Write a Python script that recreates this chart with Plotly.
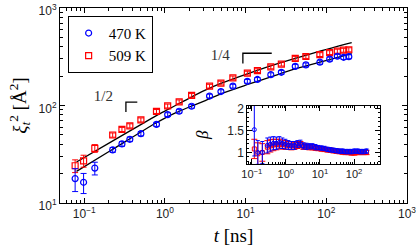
import plotly.graph_objects as go
import math

# ---- main data ----
t_main = [0.077, 0.098, 0.135, 0.225, 0.293, 0.367, 0.503, 0.785, 1.08, 1.50, 2.14,
          3.57, 4.94, 6.95, 10.5, 14.0, 20.5, 27.7, 41.2, 55.8, 83.2, 110, 137, 164, 190]
xi_470 = [17.8, 16.3, 22.8, 35.1, 40.4, 45.0, 51.4, 64.1, 80.7, 87.3, 98.2,
          125, 139, 158, 177, 185, 207, 219, 252, 261, 278, 299, 320, 312, 317]
err_470 = [4.7, 3.8, 3.4, 2.0, 2.2, 2.4, 2.6, 3.0, 3.6, 4.0, 4.4,
           5.5, 6.0, 7.0, 8.0, 8.5, 9.5, 10, 12, 12, 13, 14, 15, 15, 15]
xi_509 = [24.1, 27.1, 36.4, 49.8, 56.8, 61.9, 71.2, 86.9, 98.9, 109, 127,
          158, 170, 192, 215, 228, 249, 266, 305, 318, 333, 349, 361, 369, 373]
err_509 = [3.6, 3.8, 3.3, 2.5, 2.8, 3.0, 3.4, 4.0, 4.5, 5.0, 5.5,
           7.0, 7.5, 8.5, 9.5, 10, 11, 12, 14, 14, 15, 16, 17, 17, 18]

# ---- fit curves ----
t_fit_470 = [0.0801, 0.2124, 0.7632, 1.0143, 1.348, 2.065, 3.162, 4.844, 11.36, 26.67, 40.85, 62.57, 206.4]
fit_470 = [21.1, 34.5, 65.7, 74.7, 83.9, 97.7, 112.4, 130.9, 167.3, 211.3, 237.5, 260.8, 341.2]
t_fit_509 = [0.0801, 0.2124, 0.5744, 0.880, 1.348, 2.065, 3.162, 4.844, 11.36, 26.67, 62.57, 206.4]
fit_509 = [26.3, 42.1, 68.0, 83.0, 100, 120.6, 143.7, 167.3, 216.3, 273.3, 337.3, 441.3]

# ---- slope guides ----
g12_t = [0.454, 0.328, 0.328]
g12_y = [108.5, 108.5, 85.9]
g14_t = [21.06, 9.24, 9.24]
g14_y = [343.6, 343.6, 269.8]
lab_t = [0.1726, 4.84]
lab_y = [121.9, 323]
lab_txt = ["1/2", "1/4"]

# ---- inset data ----
t_in = [0.1185, 0.150, 0.2036, 0.2856, 0.350, 0.429, 0.526, 0.644, 0.789, 0.967, 1.18, 1.45,
        1.78, 2.18, 2.67, 3.27, 4.01, 4.91, 6.02, 7.37, 9.03, 11.1, 13.6, 16.6, 20.4, 24.9,
        30.6, 37.5, 45.9, 56.2, 68.9, 84.4, 103, 127, 155, 190, 233]
beta_470 = [1.52, 1.0, 1.0, 1.16, 1.19, 1.21, 1.21, 1.23, 1.21, 1.19, 1.17, 1.16, 1.16, 1.19,
            1.20, 1.15, 1.14, 1.14, 1.14, 1.12, 1.11, 1.10, 1.09, 1.07, 1.06, 1.05, 1.04,
            1.03, 1.03, 1.02, 1.02, 1.02, 1.03, 1.03, 1.02, 1.02, 1.03]
berr_470 = [0.6, 0.27, 0.25, 0.17, 0.16, 0.15, 0.14, 0.13, 0.12, 0.11, 0.10, 0.09, 0.09, 0.08,
            0.08, 0.07, 0.07, 0.06, 0.06, 0.06, 0.05, 0.05, 0.05, 0.05, 0.05, 0.05, 0.05,
            0.05, 0.05, 0.05, 0.05, 0.05, 0.05, 0.05, 0.05, 0.05, 0.05]
beta_509 = [1.08, 0.97, 1.0, 1.12, 1.15, 1.17, 1.18, 1.19, 1.18, 1.17, 1.16, 1.15, 1.15, 1.17,
            1.18, 1.14, 1.13, 1.12, 1.12, 1.10, 1.09, 1.08, 1.07, 1.06, 1.05, 1.04, 1.03,
            1.02, 1.01, 1.0, 1.0, 0.99, 0.99, 1.0, 1.0, 1.0, 1.0]
berr_509 = [0.22, 0.25, 0.2, 0.15, 0.14, 0.13, 0.12, 0.11, 0.10, 0.10, 0.09, 0.09, 0.08, 0.08,
            0.07, 0.07, 0.06, 0.06, 0.06, 0.05, 0.05, 0.05, 0.05, 0.05, 0.05, 0.05, 0.05,
            0.05, 0.05, 0.05, 0.05, 0.05, 0.05, 0.05, 0.05, 0.05, 0.05]

BLUE = "rgb(0,0,255)"
RED = "rgb(255,0,0)"
SERIF = "Liberation Serif"
SANS = "Liberation Sans"

fig = go.Figure()

# fits
fig.add_trace(go.Scatter(x=t_fit_470, y=fit_470, mode="lines", line=dict(color="black", width=1.3, shape="spline"),
                         showlegend=False, hoverinfo="skip"))
fig.add_trace(go.Scatter(x=t_fit_509, y=fit_509, mode="lines", line=dict(color="black", width=1.3, shape="spline"),
                         showlegend=False, hoverinfo="skip"))

# main series
fig.add_trace(go.Scatter(x=t_main, y=xi_509, mode="markers", name="509 K", legendrank=2,
                         marker=dict(symbol="square-open", size=6, color=RED, line=dict(width=1.2)),
                         error_y=dict(type="data", array=err_509, color=RED, thickness=1, width=3)))
fig.add_trace(go.Scatter(x=t_main, y=xi_470, mode="markers", name="470 K", legendrank=1,
                         marker=dict(symbol="circle-open", size=6, color=BLUE, line=dict(width=1.2)),
                         error_y=dict(type="data", array=err_470, color=BLUE, thickness=1, width=3)))

# slope guides
for gx, gy in [(g12_t, g12_y), (g14_t, g14_y)]:
    fig.add_trace(go.Scatter(x=gx, y=gy, mode="lines", line=dict(color="black", width=1.3),
                             showlegend=False, hoverinfo="skip"))
fig.add_trace(go.Scatter(x=lab_t, y=lab_y, mode="text", text=lab_txt,
                         textfont=dict(family=SERIF, size=15, color="#333"),
                         showlegend=False, hoverinfo="skip"))

# inset
fig.add_trace(go.Scatter(x=t_in, y=beta_509, mode="markers", xaxis="x2", yaxis="y2", showlegend=False,
                         marker=dict(symbol="square-open", size=4, color=RED, line=dict(width=1)),
                         error_y=dict(type="data", array=berr_509, color=RED, thickness=1, width=3)))
fig.add_trace(go.Scatter(x=t_in, y=beta_470, mode="markers", xaxis="x2", yaxis="y2", showlegend=False,
                         marker=dict(symbol="circle-open", size=4, color=BLUE, line=dict(width=1)),
                         error_y=dict(type="data", array=berr_470, color=BLUE, thickness=1, width=2)))

dec_vals = [10.0 ** k for k in range(-2, 4)]
minor_vals = [m * d for d in dec_vals for m in range(2, 10)]

def sup_labels(powers):
    return ["10<sup>%s</sup>" % ("\u2212" + str(-p) if p < 0 else str(p)) for p in powers]

axis_common = dict(showline=True, linecolor="black", linewidth=1, mirror="ticks",
                   ticks="inside", tickcolor="black", ticklen=5, showgrid=False, zeroline=False,
                   automargin=False, ticklabeloverflow="allow")

fig.update_layout(
    width=416, height=250,
    margin=dict(l=60, r=9, t=8, b=47),
    paper_bgcolor="white", plot_bgcolor="white",
    showlegend=True,
    legend=dict(x=0.022, y=0.96, xanchor="left", yanchor="top",
                bgcolor="white", bordercolor="black", borderwidth=1,
                font=dict(family=SERIF, size=15, color="black"),
                itemwidth=30, tracegroupgap=0),
    xaxis=dict(type="log", range=[math.log10(0.05), 3],
               tickvals=[0.1, 1, 10, 100, 1000], ticktext=sup_labels([-1, 0, 1, 2, 3]),
               tickfont=dict(family=SANS, size=12, color="#222"),
               minor=dict(tickvals=minor_vals, ticks="inside", ticklen=3, tickcolor="black"),
               title=dict(text="<i>t</i> [ns]", font=dict(family=SERIF, size=19, color="black"), standoff=8),
               **axis_common),
    yaxis=dict(type="log", range=[1, 3],
               tickvals=[10, 100, 1000], ticktext=sup_labels([1, 2, 3]),
               tickfont=dict(family=SANS, size=12, color="#222"),
               ticklabelshift=3,
               minor=dict(tickvals=minor_vals, ticks="inside", ticklen=3, tickcolor="black"),
               title=dict(text="<i>ξ</i><sub><i>t</i></sub><sup>2</sup> [Å<sup>2</sup>]",
                          font=dict(family=SERIF, size=19, color="black"), standoff=6),
               **axis_common),
    xaxis2=dict(type="log", range=[-1.13, 2.75], domain=[0.54, 0.921], anchor="y2",
                tickvals=[0.1, 1, 10, 100], ticktext=sup_labels([-1, 0, 1, 2]),
                tickfont=dict(family=SANS, size=11, color="#222"),
                minor=dict(tickvals=minor_vals, ticks="inside", ticklen=2, tickcolor="black"),
                **axis_common),
    yaxis2=dict(range=[0.737, 2.07], domain=[0.2, 0.5], anchor="x2",
                tickvals=[1, 1.5, 2], ticktext=["1", "1.5", "2"],
                tickfont=dict(family=SANS, size=12, color="#222"),
                minor=dict(dtick=0.1, ticks="inside", ticklen=2, tickcolor="black"),
                title=dict(text="<i>β</i>", font=dict(family=SERIF, size=17, color="black"), standoff=14),
                **axis_common),
)

fig.write_html("out.html", config={"displayModeBar": False},
               post_script="document.body.style.margin='0';")
